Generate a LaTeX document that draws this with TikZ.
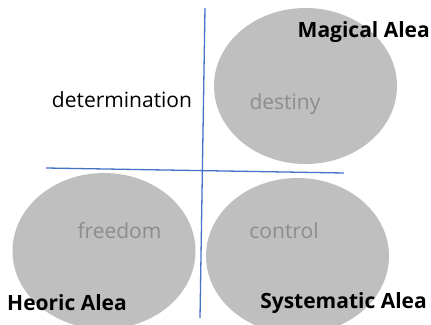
\documentclass[tikz,border=0pt]{standalone}
\usepackage{fontspec}
\setmainfont{Open Sans}
\usetikzlibrary{shapes.geometric}
\definecolor{blob}{HTML}{BFBFBF}
\definecolor{graytext}{HTML}{8C8C8C}
\definecolor{axis}{HTML}{4472C4}
\begin{document}
\begin{tikzpicture}[x=1pt,y=-1pt,
  blobnode/.style={ellipse,fill=blob,draw=none,minimum width=183pt,minimum height=156pt,inner sep=0pt},
  inner/.style={text=graytext,font=\fontsize{21}{23}\selectfont,inner sep=0pt},
  plain/.style={text=black,font=\fontsize{21}{23}\selectfont,inner sep=0pt},
  title/.style={text=black,font=\bfseries\fontsize{21}{23}\selectfont,inner sep=0pt},
  axisline/.style={draw=axis,line width=1.3pt}]
\useasboundingbox (0,0) rectangle (431,324);
\begin{scope}
\clip (0,0) rectangle (431,324);
\node[blobnode] (top) at (305.5,86) {};
\node[blobnode] (bl) at (104,251) {};
\node[blobnode] (br) at (297.5,256) {};
\end{scope}
\coordinate (vtop) at (205,8);
\coordinate (vbot) at (200,318);
\coordinate (hleft) at (46,168);
\coordinate (hright) at (344,173);
\draw[axisline] (vtop) -- (vbot);
\draw[axisline] (hleft) -- (hright);
\node[inner] (destiny) at (285,104) {destiny};
\node[inner] (freedom) at (119.5,231) {freedom};
\node[inner] (control) at (284,231) {control};
\node[plain] (det) at (122,100) {determination};
\node[title,anchor=east] (magical) at (430,32) {Magical Alea};
\node[title,anchor=west] (heoric) at (7,303) {Heoric Alea};
\node[title,anchor=east] (system) at (427,303) {Systematic Alea};
\end{tikzpicture}
\end{document}
